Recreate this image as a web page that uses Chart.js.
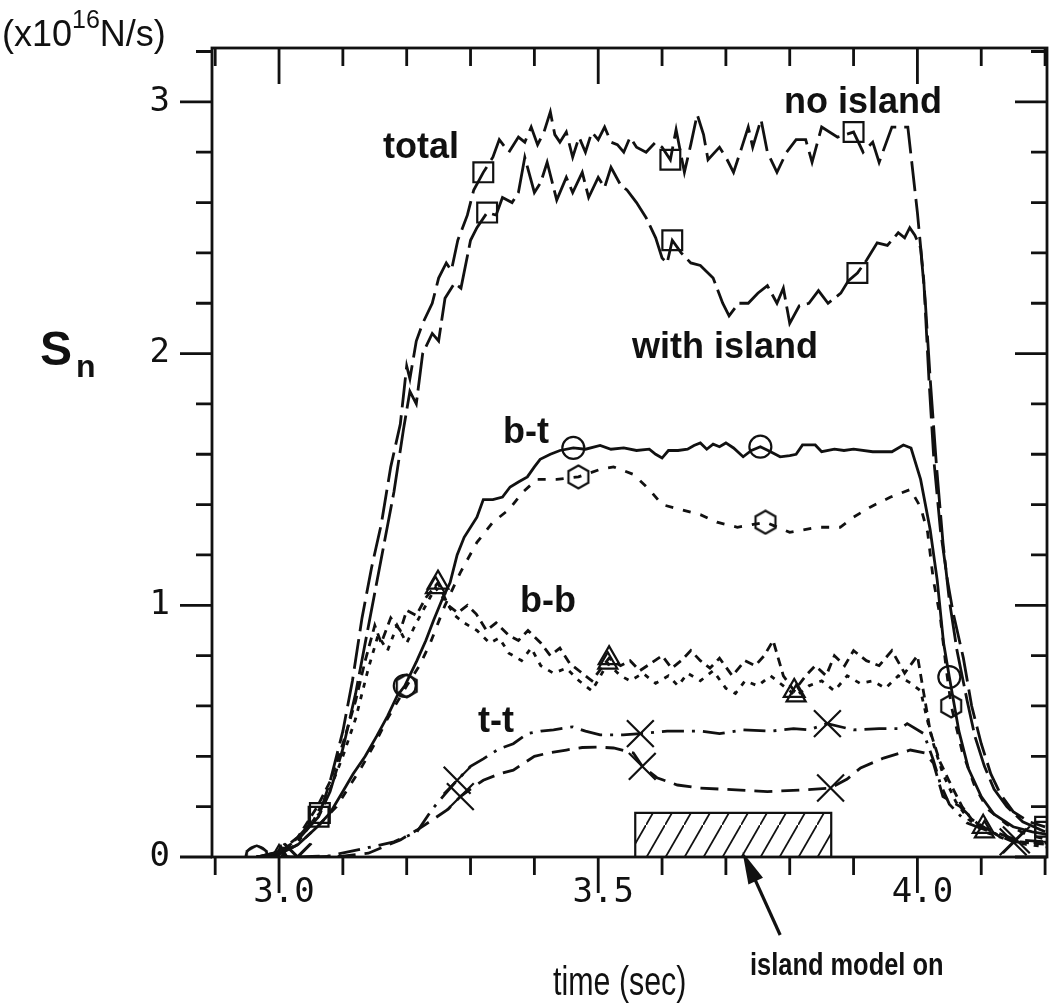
<!DOCTYPE html>
<html>
<head>
<meta charset="utf-8">
<script src="https://cdn.jsdelivr.net/npm/chart.js@4.4.1/dist/chart.umd.min.js"></script>
<style>
  html, body { margin: 0; padding: 0; background: #fff; }
</style>
</head>
<body>
<canvas id="myChart" width="1053" height="1004"></canvas>
<script>
/* Particle source S_n vs time, with and without the island model */

const ink = '#111';

// axis ticks
const xTickVals = [2.9, 3, 3.1, 3.2, 3.3, 3.4, 3.5, 3.6, 3.7, 3.8, 3.9, 4, 4.1, 4.2];
const xLabelVals = [3, 3.5, 4];
const yTickVals = [0, 0.2, 0.4, 0.6, 0.8, 1, 1.2, 1.4, 1.6, 1.8, 2, 2.2, 2.4, 2.6, 2.8, 3, 3.2];
const yLabelVals = [0, 1, 2, 3];

// total, no island (long dash, squares)
const totalNo = [[2.965,0],[3.0,0.02],[3.03,0.08],[3.064,0.175],[3.08,0.3],[3.1,0.5],[3.115,0.7],[3.13,0.95],
  [3.145,1.15],[3.16,1.32],[3.175,1.55],[3.19,1.72],[3.2,1.95],[3.205,1.9],[3.215,2.05],[3.225,2.12],[3.24,2.2],
  [3.25,2.3],[3.262,2.36],[3.27,2.33],[3.28,2.45],[3.295,2.55],[3.305,2.65],[3.32,2.72],[3.335,2.78],[3.345,2.85],
  [3.36,2.8],[3.375,2.86],[3.385,2.84],[3.395,2.9],[3.405,2.83],[3.415,2.88],[3.425,2.96],[3.432,2.87],[3.44,2.84],
  [3.45,2.88],[3.46,2.78],[3.47,2.86],[3.48,2.8],[3.49,2.88],[3.5,2.85],[3.51,2.9],[3.52,2.84],[3.53,2.83],
  [3.54,2.8],[3.55,2.86],[3.56,2.82],[3.575,2.8],[3.59,2.84],[3.6,2.82],[3.613,2.77],[3.622,2.89],[3.635,2.72],
  [3.645,2.83],[3.655,2.95],[3.665,2.87],[3.672,2.77],[3.69,2.82],[3.7,2.78],[3.712,2.72],[3.725,2.82],[3.735,2.9],
  [3.742,2.82],[3.755,2.93],[3.765,2.8],[3.78,2.72],[3.795,2.8],[3.81,2.85],[3.825,2.85],[3.835,2.76],[3.85,2.9],
  [3.875,2.86],[3.9,2.88],[3.915,2.8],[3.93,2.84],[3.94,2.76],[3.96,2.9],[3.985,2.9],[4.0,2.56],[4.01,2.29],
  [4.018,1.9],[4.026,1.57],[4.036,1.3],[4.047,1.1],[4.056,0.97],[4.072,0.79],[4.085,0.6],[4.1,0.45],[4.115,0.33],
  [4.13,0.25],[4.15,0.18],[4.175,0.14],[4.2,0.12]];
const totalNoMarks = [3.064, 3.32, 3.613, 3.9, 4.2];

// total, with island (long dash, squares)
const totalWith = [[2.965,0],[3.0,0.02],[3.03,0.07],[3.062,0.16],[3.08,0.26],[3.1,0.43],[3.12,0.65],[3.135,0.85],
  [3.15,1.05],[3.165,1.25],[3.18,1.45],[3.195,1.7],[3.205,1.85],[3.215,1.8],[3.225,2.0],[3.24,2.08],[3.25,2.05],
  [3.26,2.22],[3.275,2.28],[3.285,2.26],[3.3,2.45],[3.31,2.5],[3.326,2.56],[3.34,2.55],[3.35,2.62],[3.365,2.6],
  [3.375,2.64],[3.385,2.78],[3.4,2.64],[3.41,2.68],[3.42,2.76],[3.435,2.61],[3.45,2.7],[3.46,2.64],[3.475,2.72],
  [3.485,2.62],[3.5,2.7],[3.51,2.66],[3.52,2.74],[3.535,2.67],[3.545,2.65],[3.56,2.6],[3.575,2.54],[3.59,2.46],
  [3.6,2.38],[3.608,2.36],[3.616,2.45],[3.63,2.4],[3.645,2.36],[3.66,2.35],[3.68,2.3],[3.695,2.2],[3.705,2.15],
  [3.72,2.2],[3.735,2.2],[3.75,2.24],[3.765,2.27],[3.78,2.2],[3.79,2.26],[3.8,2.12],[3.815,2.19],[3.83,2.2],
  [3.845,2.25],[3.86,2.2],[3.88,2.24],[3.892,2.29],[3.906,2.32],[3.92,2.37],[3.937,2.44],[3.953,2.43],[3.97,2.48],
  [3.98,2.46],[3.988,2.5],[3.996,2.47],[4.005,2.42],[4.012,2.22],[4.02,1.9],[4.03,1.55],[4.04,1.25],[4.05,1.02],
  [4.062,0.82],[4.078,0.62],[4.09,0.48],[4.105,0.36],[4.12,0.27],[4.14,0.2],[4.165,0.14],[4.2,0.1]];
const totalWithMarks = [3.062, 3.326, 3.616, 3.906, 4.2];

// b-t, no island (solid, circles)
const btNo = [[2.965,0],[3.0,0.01],[3.03,0.05],[3.06,0.12],[3.08,0.175],[3.1,0.26],[3.116,0.33],[3.135,0.4],
  [3.153,0.48],[3.17,0.56],[3.185,0.64],[3.197,0.68],[3.216,0.78],[3.23,0.86],[3.242,0.94],[3.255,1.02],[3.268,1.09],
  [3.279,1.2],[3.29,1.27],[3.31,1.35],[3.32,1.42],[3.335,1.42],[3.35,1.43],[3.362,1.47],[3.375,1.49],[3.389,1.51],
  [3.4,1.55],[3.409,1.58],[3.425,1.6],[3.44,1.615],[3.461,1.625],[3.48,1.62],[3.503,1.635],[3.52,1.62],[3.54,1.625],
  [3.56,1.615],[3.58,1.62],[3.59,1.6],[3.6,1.585],[3.61,1.615],[3.625,1.615],[3.64,1.62],[3.65,1.635],[3.66,1.645],
  [3.67,1.62],[3.68,1.64],[3.69,1.63],[3.7,1.645],[3.712,1.625],[3.727,1.59],[3.74,1.615],[3.754,1.63],[3.77,1.61],
  [3.785,1.59],[3.8,1.595],[3.81,1.6],[3.82,1.637],[3.84,1.637],[3.85,1.61],[3.87,1.62],[3.885,1.615],[3.9,1.62],
  [3.93,1.61],[3.96,1.61],[3.978,1.637],[3.99,1.625],[4.005,1.5],[4.02,1.3],[4.031,1.1],[4.041,0.85],[4.05,0.715],
  [4.065,0.5],[4.08,0.35],[4.1,0.24],[4.12,0.17],[4.15,0.12],[4.18,0.1],[4.203,0.09]];
const btNoMarks = [2.965, 3.197, 3.461, 3.754, 4.05];

// b-t, with island (short dash, hexagons)
const btWith = [[2.965,0],[3.0,0.01],[3.03,0.05],[3.06,0.12],[3.09,0.2],[3.11,0.28],[3.13,0.36],[3.15,0.45],
  [3.17,0.55],[3.2,0.68],[3.22,0.76],[3.237,0.85],[3.26,1.0],[3.284,1.13],[3.31,1.25],[3.335,1.33],[3.36,1.38],
  [3.382,1.45],[3.404,1.5],[3.435,1.5],[3.469,1.51],[3.503,1.54],[3.524,1.55],[3.555,1.52],[3.58,1.46],[3.6,1.4],
  [3.63,1.38],[3.66,1.36],[3.686,1.33],[3.718,1.31],[3.762,1.33],[3.8,1.29],[3.843,1.31],[3.879,1.31],[3.9,1.35],
  [3.926,1.39],[3.958,1.43],[3.989,1.46],[4.005,1.39],[4.016,1.29],[4.025,1.1],[4.036,0.95],[4.045,0.75],[4.053,0.6],
  [4.07,0.42],[4.09,0.28],[4.11,0.19],[4.14,0.13],[4.17,0.09],[4.203,0.07]];
const btWithMarks = [2.965, 3.2, 3.469, 3.762, 4.053];

// b-b, no island (dashes, triangles)
const bbNo = [[2.965,0],[3.0,0],[3.03,0.08],[3.06,0.2],[3.08,0.3],[3.1,0.45],[3.12,0.62],[3.135,0.78],[3.15,0.92],
  [3.16,0.85],[3.175,0.95],[3.19,0.9],[3.2,0.98],[3.215,0.96],[3.23,1.03],[3.249,1.09],[3.265,1.0],[3.28,0.97],
  [3.295,1.0],[3.309,0.965],[3.325,0.9],[3.34,0.93],[3.36,0.88],[3.375,0.86],[3.39,0.9],[3.41,0.85],[3.425,0.8],
  [3.44,0.83],[3.455,0.77],[3.47,0.74],[3.49,0.7],[3.517,0.79],[3.535,0.76],[3.55,0.78],[3.565,0.74],[3.583,0.77],
  [3.6,0.8],[3.615,0.75],[3.63,0.78],[3.645,0.82],[3.66,0.78],[3.675,0.75],[3.69,0.79],[3.71,0.72],[3.73,0.78],
  [3.746,0.76],[3.76,0.8],[3.774,0.86],[3.79,0.72],[3.807,0.66],[3.825,0.72],[3.84,0.76],[3.857,0.72],[3.87,0.8],
  [3.886,0.76],[3.9,0.82],[3.92,0.78],[3.94,0.76],[3.96,0.82],[3.98,0.73],[4.0,0.8],[4.01,0.65],[4.02,0.5],
  [4.035,0.38],[4.05,0.3],[4.07,0.2],[4.085,0.15],[4.103,0.12],[4.13,0.08],[4.16,0.06],[4.203,0.05]];
const bbNoMarks = [3.0, 3.249, 3.517, 3.807, 4.103];

// b-b, with island (fine dashes, triangles)
const bbWith = [[2.965,0],[3.003,0],[3.03,0.06],[3.055,0.15],[3.08,0.27],[3.1,0.4],[3.12,0.55],[3.14,0.75],
  [3.155,0.88],[3.17,0.82],[3.185,0.92],[3.2,0.85],[3.215,0.93],[3.23,1.0],[3.245,1.07],[3.26,1.02],[3.275,0.96],
  [3.29,0.93],[3.31,0.9],[3.33,0.85],[3.345,0.87],[3.36,0.81],[3.38,0.78],[3.395,0.83],[3.41,0.76],[3.43,0.73],
  [3.45,0.75],[3.47,0.7],[3.49,0.66],[3.515,0.77],[3.535,0.72],[3.55,0.7],[3.57,0.73],[3.59,0.69],[3.61,0.72],
  [3.625,0.68],[3.64,0.73],[3.66,0.7],[3.68,0.74],[3.7,0.67],[3.715,0.65],[3.73,0.7],[3.75,0.68],[3.77,0.72],
  [3.79,0.68],[3.81,0.64],[3.83,0.68],[3.85,0.7],[3.87,0.66],[3.89,0.72],[3.91,0.69],[3.93,0.7],[3.95,0.67],
  [3.97,0.72],[3.99,0.69],[4.005,0.66],[4.015,0.55],[4.025,0.45],[4.04,0.33],[4.06,0.22],[4.08,0.15],[4.105,0.1],
  [4.14,0.07],[4.17,0.05],[4.203,0.04]];
const bbWithMarks = [3.003, 3.245, 3.515, 3.81, 4.105];

// t-t, no island (dash-dot, crosses)
const ttNo = [[2.965,0],[3.028,0],[3.08,0.005],[3.127,0.03],[3.18,0.06],[3.216,0.1],[3.24,0.19],[3.26,0.25],
  [3.279,0.305],[3.3,0.36],[3.32,0.39],[3.345,0.43],[3.367,0.45],[3.389,0.49],[3.41,0.5],[3.43,0.505],[3.46,0.517],
  [3.48,0.5],[3.503,0.485],[3.539,0.485],[3.566,0.49],[3.608,0.5],[3.66,0.5],[3.69,0.49],[3.727,0.505],[3.77,0.5],
  [3.806,0.51],[3.83,0.505],[3.859,0.53],[3.9,0.505],[3.94,0.51],[3.973,0.51],[3.984,0.53],[4.01,0.49],[4.025,0.385],
  [4.036,0.29],[4.05,0.21],[4.078,0.135],[4.12,0.095],[4.15,0.06],[4.203,0.055]];
const ttNoMarks = [3.028, 3.279, 3.566, 3.859, 4.15];

// t-t, with island (dashes, crosses)
const ttWith = [[2.965,0],[3.03,0],[3.1,0.003],[3.14,0.015],[3.19,0.068],[3.216,0.107],[3.24,0.147],[3.265,0.19],
  [3.284,0.24],[3.3,0.27],[3.32,0.305],[3.345,0.33],[3.367,0.345],[3.4,0.4],[3.425,0.415],[3.45,0.425],[3.475,0.435],
  [3.5,0.437],[3.524,0.433],[3.555,0.413],[3.569,0.36],[3.592,0.315],[3.624,0.286],[3.66,0.274],[3.69,0.27],
  [3.723,0.266],[3.765,0.26],[3.817,0.266],[3.864,0.274],[3.89,0.31],[3.911,0.354],[3.947,0.393],[3.989,0.425],
  [4.012,0.413],[4.025,0.373],[4.04,0.24],[4.067,0.2],[4.099,0.12],[4.155,0.068],[4.203,0.06]];
const ttWithMarks = [3.03, 3.284, 3.569, 3.864, 4.155];

// island model on period
const islandOn = [3.558, 3.865];
const islandTop = 0.175;

// hatch pattern for the island bar
function makeHatch() {
  const w = 19, h = 33;
  const c = document.createElement('canvas');
  c.width = w; c.height = h;
  const g = c.getContext('2d');
  g.strokeStyle = ink; g.lineWidth = 1.8;
  g.beginPath();
  g.moveTo(-w, 2 * h); g.lineTo(2 * w, -h);
  g.stroke();
  return g.createPattern(c, 'repeat');
}

function makeHexagon(size) {
  const c = document.createElement('canvas');
  c.width = size; c.height = size;
  const g = c.getContext('2d');
  const r = size / 2 - 1.5;
  g.strokeStyle = ink; g.lineWidth = 2.2;
  g.beginPath();
  for (let i = 0; i < 6; i++) {
    const a = Math.PI / 6 + i * Math.PI / 3;
    const px = size / 2 + r * Math.cos(a), py = size / 2 + r * Math.sin(a);
    if (i === 0) g.moveTo(px, py); else g.lineTo(px, py);
  }
  g.closePath();
  g.stroke();
  return c;
}

function series(label, pts, marks, style, radius, dash) {
  return {
    label: label,
    data: pts.map(p => ({ x: p[0], y: p[1] })),
    showLine: true,
    borderColor: ink,
    borderWidth: 2.8,
    borderDash: dash,
    tension: 0,
    fill: false,
    pointStyle: style,
    pointBorderColor: ink,
    pointBackgroundColor: 'rgba(0,0,0,0)',
    pointBorderWidth: 2.2,
    pointRadius: c => (c.raw && marks.includes(c.raw.x)) ? radius : 0,
    pointHoverRadius: 0
  };
}

const hexagon = makeHexagon(26);

const datasets = [
  series('total, no island', totalNo, totalNoMarks, 'rect', 14, [30, 8]),
  series('total, with island', totalWith, totalWithMarks, 'rect', 14, [38, 7]),
  series('b-t, no island', btNo, btNoMarks, 'circle', 11, []),
  series('b-t, with island', btWith, btWithMarks, hexagon, 12, [8, 10]),
  series('b-b, no island', bbNo, bbNoMarks, 'triangle', 12, [9, 6]),
  series('b-b, with island', bbWith, bbWithMarks, 'triangle', 11, [5, 7]),
  series('t-t, no island', ttNo, ttNoMarks, 'crossRot', 19, [22, 8, 3, 8]),
  series('t-t, with island', ttWith, ttWithMarks, 'crossRot', 19, [18, 9]),
  {
    label: 'island model on',
    data: [{ x: islandOn[0], y: 0 }, { x: islandOn[0], y: islandTop }, { x: islandOn[1], y: islandTop }, { x: islandOn[1], y: 0 }],
    showLine: true,
    fill: 'origin',
    backgroundColor: makeHatch(),
    borderColor: ink,
    borderWidth: 2.2,
    pointRadius: 0,
    tension: 0
  }
];

function boldText(ctx, text, x, y, size) {
  ctx.font = 'bold ' + size + 'px "Liberation Sans", Arial, sans-serif';
  ctx.fillText(text, x, y);
}

// text drawn squeezed sideways, as in the scanned figure
function narrowText(ctx, text, x, y, font, sx) {
  ctx.save();
  ctx.translate(x, y);
  ctx.scale(sx, 1);
  ctx.font = font;
  ctx.fillText(text, 0, 0);
  ctx.restore();
}

// spines, ticks and text labels
const framePlugin = {
  id: 'frame',
  afterDraw(chart) {
    const { ctx, chartArea: a, scales: { x, y } } = chart;
    ctx.save();
    ctx.strokeStyle = ink;
    ctx.fillStyle = ink;
    ctx.lineWidth = 2.8;
    ctx.setLineDash([]);
    ctx.strokeRect(a.left, a.top, a.right - a.left, a.bottom - a.top);

    ctx.beginPath();
    xTickVals.forEach(v => {
      const px = x.getPixelForValue(v);
      const len = xLabelVals.includes(v) ? 36 : 18;
      ctx.moveTo(px, a.bottom); ctx.lineTo(px, a.bottom + len);
      ctx.moveTo(px, a.top); ctx.lineTo(px, a.top + len);
    });
    yTickVals.forEach(v => {
      const py = y.getPixelForValue(v);
      const len = yLabelVals.includes(v) ? 32 : 16;
      ctx.moveTo(a.left, py); ctx.lineTo(a.left - len, py);
      ctx.moveTo(a.right, py); ctx.lineTo(a.right - len, py);
    });
    ctx.stroke();

    // curve labels
    ctx.textBaseline = 'alphabetic';
    ctx.textAlign = 'left';
    boldText(ctx, 'total', 383, 158, 36);
    boldText(ctx, 'no island', 784, 113, 36);
    boldText(ctx, 'with island', 632, 358, 36);
    boldText(ctx, 'b-t', 503, 443, 36);
    boldText(ctx, 'b-b', 520, 612, 36);
    boldText(ctx, 't-t', 478, 732, 36);

    // arrow to the island bar
    const tipX = x.getPixelForValue(3.726), tipY = y.getPixelForValue(0.02);
    const tailX = x.getPixelForValue(3.785), tailY = y.getPixelForValue(-0.31);
    const ang = Math.atan2(tipY - tailY, tipX - tailX);
    ctx.lineWidth = 3.2;
    ctx.beginPath();
    ctx.moveTo(tailX, tailY); ctx.lineTo(tipX - 20 * Math.cos(ang), tipY - 20 * Math.sin(ang));
    ctx.stroke();
    ctx.beginPath();
    ctx.moveTo(tipX, tipY);
    ctx.lineTo(tipX - 32 * Math.cos(ang) + 8 * Math.sin(ang), tipY - 32 * Math.sin(ang) - 8 * Math.cos(ang));
    ctx.lineTo(tipX - 32 * Math.cos(ang) - 8 * Math.sin(ang), tipY - 32 * Math.sin(ang) + 8 * Math.cos(ang));
    ctx.closePath();
    ctx.fill();

    ctx.textAlign = 'left';
    narrowText(ctx, 'island model on', 750, 975, 'bold 31px "Liberation Sans", Arial, sans-serif', 0.82);
    narrowText(ctx, 'time (sec)', 553, 995, '40px "Liberation Sans", Arial, sans-serif', 0.76);

    // y axis title S_n
    boldText(ctx, 'S', 40, 365, 48);
    boldText(ctx, 'n', 76, 377, 32);

    // unit
    ctx.font = '36px "Liberation Sans", Arial, sans-serif';
    ctx.fillText('(x10', 2, 46);
    let w = ctx.measureText('(x10').width;
    ctx.font = '25px "Liberation Sans", Arial, sans-serif';
    ctx.fillText('16', 2 + w, 28);
    w += ctx.measureText('16').width;
    ctx.font = '36px "Liberation Sans", Arial, sans-serif';
    ctx.fillText('N/s)', 2 + w, 46);
    ctx.restore();
  }
};

const ctx = document.getElementById('myChart').getContext('2d');
const myChart = new Chart(ctx, {
  type: 'scatter',
  data: { datasets: datasets },
  options: {
    responsive: false,
    animation: false,
    layout: { autoPadding: false, padding: { top: 48, right: 6, bottom: 0, left: 0 } },
    plugins: {
      legend: { display: false },
      tooltip: { enabled: false }
    },
    scales: {
      x: {
        type: 'linear',
        min: 2.895,
        max: 4.203,
        grid: { display: false },
        border: { display: false },
        afterBuildTicks: s => { s.ticks = xLabelVals.map(v => ({ value: v })); },
        afterFit: s => { s.height = 147; s.paddingLeft = 0; s.paddingRight = 0; },
        ticks: {
          color: ink,
          padding: 8,
          labelOffset: 5,
          maxRotation: 0,
          autoSkip: false,
          font: { family: '"DejaVu Sans Mono", monospace', size: 34 },
          callback: v => v.toFixed(1)
        }
      },
      y: {
        type: 'linear',
        min: 0,
        max: 3.214,
        grid: { display: false },
        border: { display: false },
        afterBuildTicks: s => { s.ticks = yLabelVals.map(v => ({ value: v })); },
        afterFit: s => { s.width = 212; s.paddingTop = 0; s.paddingBottom = 0; },
        ticks: {
          color: ink,
          padding: 34,
          autoSkip: false,
          font: { family: '"DejaVu Sans Mono", monospace', size: 34 },
          callback: v => String(v)
        }
      }
    }
  },
  plugins: [framePlugin]
});
</script>
</body>
</html>
